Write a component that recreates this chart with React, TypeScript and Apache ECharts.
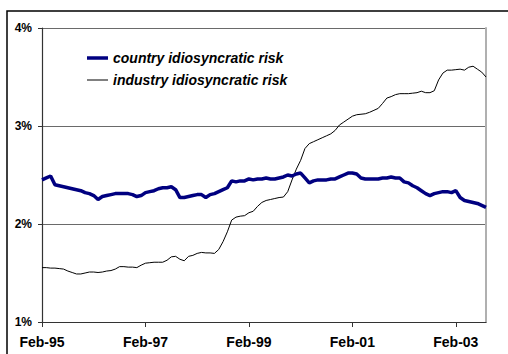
import React, { useEffect, useRef } from "react";
import * as echarts from "echarts";

const monthNames = ["Jan", "Feb", "Mar", "Apr", "May", "Jun", "Jul", "Aug", "Sep", "Oct", "Nov", "Dec"];
const startYear = 1995;
const startMonth = 1; // Feb
const monthCount = 104; // Feb-95 .. Sep-03

const categories: string[] = [];
for (let k = 0; k < monthCount; k++) {
  const m = (startMonth + k) % 12;
  const y = startYear + Math.floor((startMonth + k) / 12);
  categories.push(`${monthNames[m]}-${String(y % 100).padStart(2, "0")}`);
}

const seriesNames = ["country idiosyncratic risk", "industry idiosyncratic risk"];

const countryRisk = [
  2.45, 2.47, 2.49, 2.40, 2.39, 2.38, 2.37, 2.36, 2.35, 2.34,
  2.32, 2.31, 2.29, 2.25, 2.28, 2.29, 2.30, 2.31, 2.31, 2.31,
  2.31, 2.30, 2.28, 2.29, 2.32, 2.33, 2.34, 2.36, 2.37, 2.37,
  2.38, 2.35, 2.27, 2.27, 2.28, 2.29, 2.30, 2.30, 2.27, 2.30,
  2.31, 2.33, 2.35, 2.37, 2.44, 2.43, 2.44, 2.44, 2.46, 2.45,
  2.46, 2.46, 2.47, 2.46, 2.46, 2.47, 2.48, 2.50, 2.49, 2.51,
  2.52, 2.47, 2.42, 2.44, 2.45, 2.45, 2.45, 2.46, 2.46, 2.48,
  2.50, 2.52, 2.52, 2.51, 2.47, 2.46, 2.46, 2.46, 2.46, 2.47,
  2.47, 2.48, 2.47, 2.47, 2.43, 2.42, 2.39, 2.37, 2.34, 2.31,
  2.29, 2.31, 2.32, 2.33, 2.33, 2.32, 2.34, 2.27, 2.24, 2.23,
  2.22, 2.21, 2.19, 2.17,
];

const industryRisk = [
  1.555, 1.555, 1.55, 1.55, 1.545, 1.54, 1.52, 1.505, 1.49, 1.49,
  1.50, 1.51, 1.51, 1.505, 1.51, 1.52, 1.525, 1.54, 1.565, 1.565,
  1.56, 1.56, 1.555, 1.58, 1.60, 1.605, 1.61, 1.61, 1.61, 1.63,
  1.665, 1.67, 1.64, 1.625, 1.67, 1.68, 1.70, 1.71, 1.705, 1.705,
  1.70, 1.74, 1.82, 1.92, 2.04, 2.07, 2.08, 2.085, 2.115, 2.13,
  2.18, 2.22, 2.24, 2.25, 2.26, 2.27, 2.275, 2.33, 2.45, 2.56,
  2.65, 2.77, 2.82, 2.84, 2.86, 2.88, 2.90, 2.92, 2.955, 3.01,
  3.04, 3.07, 3.10, 3.115, 3.12, 3.125, 3.14, 3.16, 3.18, 3.23,
  3.285, 3.30, 3.32, 3.33, 3.33, 3.33, 3.335, 3.34, 3.355, 3.34,
  3.34, 3.36, 3.47, 3.54, 3.57, 3.57, 3.575, 3.58, 3.57, 3.60,
  3.61, 3.58, 3.55, 3.50,
];

const yMin = 1;
const yMax = 4;
const yInterval = 1;
const xLabelEvery = 24;

const FONT = "Arial, 'Liberation Sans', sans-serif";

export default function App() {
  const ref = useRef<HTMLDivElement>(null);

  useEffect(() => {
    if (!ref.current) return;
    const chart = echarts.init(ref.current, undefined, { renderer: "svg" });
    chart.setOption({
      animation: false,
      backgroundColor: "#ffffff",
      graphic: [
        {
          type: "rect",
          z: -10,
          shape: { x: 7, y: 11, width: 520, height: 370 },
          style: { fill: "none", stroke: "#000000", lineWidth: 1.5 },
        },
      ],
      grid: { left: 42, top: 28, right: 22, bottom: 32, containLabel: false },
      legend: {
        orient: "vertical",
        left: 87,
        top: 51,
        padding: 0,
        itemWidth: 21,
        itemHeight: 14,
        itemGap: 8,
        symbolKeepAspect: true,
        data: [
          { name: seriesNames[0], icon: "path://M0,0H42V7H0Z" },
          { name: seriesNames[1], icon: "path://M0,0H21V1H0Z" },
        ],
        textStyle: {
          fontFamily: FONT,
          fontSize: 14,
          fontWeight: "bold",
          fontStyle: "italic",
          color: "#000000",
        },
      },
      xAxis: {
        type: "category",
        data: categories,
        boundaryGap: false,
        axisLine: { show: true, lineStyle: { color: "#333333", width: 1.2 } },
        axisTick: {
          show: true,
          inside: false,
          length: 5,
          interval: (idx: number) => idx % xLabelEvery === 0,
          lineStyle: { color: "#333333" },
        },
        axisLabel: {
          interval: (idx: number) => idx % xLabelEvery === 0,
          margin: 13,
          fontFamily: FONT,
          fontSize: 14,
          fontWeight: "bold",
          color: "#000000",
        },
        splitLine: { show: false },
      },
      yAxis: [
        {
          type: "value",
          min: yMin,
          max: yMax,
          interval: yInterval,
          axisLine: { show: true, lineStyle: { color: "#333333", width: 1.2 } },
          axisTick: { show: true, inside: false, length: 4, lineStyle: { color: "#333333" } },
          axisLabel: {
            formatter: (v: number) => `${v}%`,
            margin: 10,
            fontFamily: FONT,
            fontSize: 12,
            fontWeight: "bold",
            color: "#000000",
          },
          splitLine: { show: true, lineStyle: { color: "#6a6a6a", width: 1 } },
        },
        {
          type: "value",
          position: "right",
          min: yMin,
          max: yMax,
          interval: yInterval,
          axisLine: { show: true, lineStyle: { color: "#b0b0b0", width: 2 } },
          axisTick: { show: false },
          axisLabel: { show: false },
          splitLine: { show: false },
        },
      ],
      series: [
        {
          name: seriesNames[0],
          type: "line",
          data: countryRisk,
          symbol: "none",
          lineStyle: { color: "#000080", width: 3.5 },
          itemStyle: { color: "#000080" },
          z: 3,
        },
        {
          name: seriesNames[1],
          type: "line",
          data: industryRisk,
          symbol: "none",
          lineStyle: { color: "#000000", width: 1 },
          itemStyle: { color: "#000000" },
          z: 2,
        },
      ],
    });
    return () => chart.dispose();
  }, []);

  return (
    <div
      ref={ref}
      style={{ position: "absolute", left: 0, top: 0, width: 508, height: 354 }}
    />
  );
}
